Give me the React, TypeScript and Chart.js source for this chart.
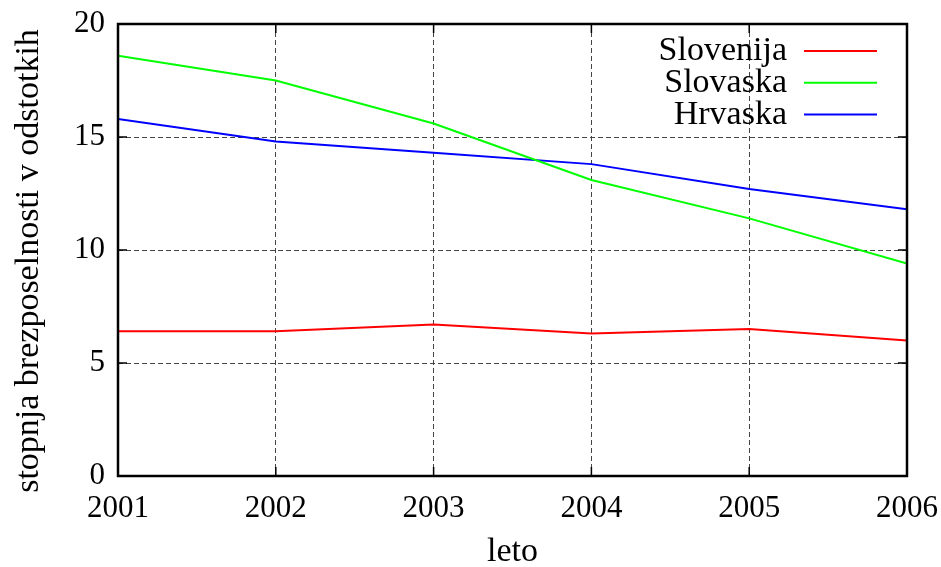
import React, { useEffect, useRef } from "react";
import { Chart, registerables } from "chart.js";

Chart.register(...registerables);

const years = [2001, 2002, 2003, 2004, 2005, 2006];
const slovenija = [6.4, 6.4, 6.7, 6.3, 6.5, 6.0];
const slovaska = [18.6, 17.5, 15.6, 13.1, 11.4, 9.4];
const hrvaska = [15.8, 14.8, 14.3, 13.8, 12.7, 11.8];
const seriesNames = ["Slovenija", "Slovaska", "Hrvaska"];
const seriesColors = ["#ff0000", "#00ff00", "#0000ff"];
const yTitle = "stopnja brezposelnosti v odstotkih";
const xTitle = "leto";

const FONT = "'Liberation Serif', 'DejaVu Serif', serif";

const framePlugin = {
  id: "frame",
  afterDraw(chart: any) {
    const { ctx, chartArea } = chart;
    const { left, right, top, bottom } = chartArea;
    const xs = chart.scales.x;
    const ys = chart.scales.y;
    ctx.save();
    ctx.strokeStyle = "#000";
    ctx.lineWidth = 1.5;
    ctx.setLineDash([]);
    const tl = 9;
    ctx.beginPath();
    xs.ticks.forEach((t: any) => {
      const px = xs.getPixelForValue(t.value);
      ctx.moveTo(px, bottom);
      ctx.lineTo(px, bottom - tl);
      ctx.moveTo(px, top);
      ctx.lineTo(px, top + tl);
    });
    ys.ticks.forEach((t: any) => {
      const py = ys.getPixelForValue(t.value);
      ctx.moveTo(left, py);
      ctx.lineTo(left + tl, py);
      ctx.moveTo(right, py);
      ctx.lineTo(right - tl, py);
    });
    ctx.stroke();
    ctx.lineWidth = 2.5;
    ctx.strokeRect(left, top, right - left, bottom - top);

    // y axis title
    ctx.save();
    ctx.font = `34px ${FONT}`;
    ctx.fillStyle = "#000";
    ctx.textAlign = "center";
    ctx.textBaseline = "middle";
    ctx.translate(29, (top + bottom) / 2 + 11);
    ctx.rotate(-Math.PI / 2);
    ctx.fillText(yTitle, 0, 0);
    ctx.restore();

    // legend
    ctx.font = `34px ${FONT}`;
    ctx.textAlign = "right";
    ctx.textBaseline = "middle";
    const textRight = right - 120;
    const lineStart = right - 103;
    const lineEnd = right - 30;
    chart.data.datasets.forEach((ds: any, i: number) => {
      const y = top + 27 + i * 31.8;
      ctx.fillStyle = "#000";
      ctx.fillText(ds.label, textRight, y);
      ctx.strokeStyle = ds.borderColor;
      ctx.lineWidth = 2;
      ctx.beginPath();
      ctx.moveTo(lineStart, y);
      ctx.lineTo(lineEnd, y);
      ctx.stroke();
    });
    ctx.restore();
  },
};

export default function App() {
  const ref = useRef<HTMLCanvasElement>(null);
  useEffect(() => {
    document.body.style.margin = "0";
    const values = [slovenija, slovaska, hrvaska];
    const chart = new Chart(ref.current!, {
      type: "line",
      data: {
        datasets: seriesNames.map((name, i) => ({
          label: name,
          data: years.map((y, j) => ({ x: y, y: values[i][j] })),
          borderColor: seriesColors[i],
          backgroundColor: seriesColors[i],
          borderWidth: 2,
          pointRadius: 0,
          tension: 0,
        })),
      },
      options: {
        animation: false,
        responsive: false,
        maintainAspectRatio: false,
        layout: { padding: { top: 24, right: 34, left: 0, bottom: 0 } },
        plugins: { legend: { display: false }, tooltip: { enabled: false } },
        scales: {
          x: {
            type: "linear",
            min: 2001,
            max: 2006,
            ticks: {
              stepSize: 1,
              padding: 14,
              color: "#000",
              font: { family: FONT, size: 31 },
              callback: (v: any) => String(v),
            },
            grid: {
              color: "#444",
              lineWidth: 1,
              drawTicks: false,
            },
            border: { display: false, dash: [5, 3] },
            title: {
              display: true,
              text: xTitle,
              color: "#000",
              font: { family: FONT, size: 34 },
              padding: { top: 0, bottom: -5 },
            },
            afterFit: (s: any) => {
              s.height = 91;
              s.paddingLeft = 0;
              s.paddingRight = 0;
              s.paddingTop = 0;
              s.paddingBottom = 0;
            },
          },
          y: {
            min: 0,
            max: 20,
            ticks: {
              stepSize: 5,
              padding: 13,
              color: "#000",
              font: { family: FONT, size: 31 },
            },
            grid: {
              color: "#444",
              lineWidth: 1,
              drawTicks: false,
            },
            border: { display: false, dash: [5, 3] },
            title: { display: false },
            afterFit: (s: any) => {
              s.width = 118;
              s.paddingLeft = 0;
              s.paddingRight = 0;
              s.paddingTop = 0;
              s.paddingBottom = 0;
            },
          },
        },
      },
      plugins: [framePlugin],
    });
    return () => chart.destroy();
  }, []);
  return (
    <div style={{ width: 941, height: 567 }}>
      <canvas ref={ref} width={941} height={567} style={{ display: "block" }} />
    </div>
  );
}
